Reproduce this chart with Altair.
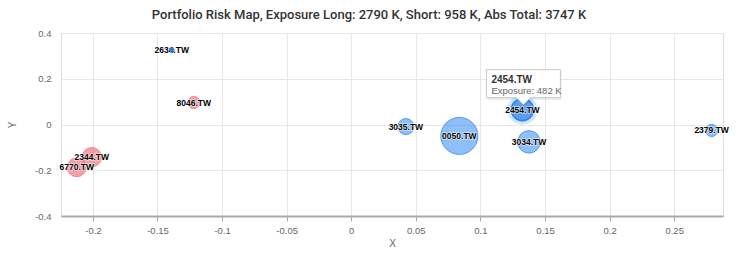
import altair as alt
import pandas as pd

tickers = ["0050.TW", "2454.TW", "3034.TW", "3035.TW", "2379.TW", "2634.TW",
           "2344.TW", "6770.TW", "8046.TW"]
x_vals = [0.0837, 0.1325, 0.1376, 0.0423, 0.279, -0.139, -0.2009, -0.2125, -0.1219]
y_vals = [-0.050, 0.065, -0.076, -0.009, -0.026, 0.326, -0.143, -0.187, 0.096]
exposure = [1242, 482, 500, 285, 193, 88, 390, 375, 193]
side = ["Long", "Long", "Long", "Long", "Long", "Long", "Short", "Short", "Short"]
hovered = "2454.TW"

title_text = "Portfolio Risk Map, Exposure Long: 2790 K, Short: 958 K, Abs Total: 3747 K"
x_ticks = [-0.2, -0.15, -0.1, -0.05, 0, 0.05, 0.1, 0.15, 0.2, 0.25]
y_ticks = [-0.4, -0.2, 0, 0.2, 0.4]

df = pd.DataFrame({"ticker": tickers, "x": x_vals, "y": y_vals,
                   "exposure": exposure, "side": side})
df["tip"] = "Exposure: " + df["exposure"].astype(str) + " K"

xs = alt.Scale(domain=[-0.2247, 0.2878], nice=False, zero=False)
ys = alt.Scale(domain=[-0.4, 0.4], nice=False, zero=False)
ss = alt.Scale(domain=[88, 1242], range=[25, 1369], zero=False, nice=False)
cs = alt.Scale(domain=["Long", "Short"], range=["#1f7fef", "#ec4250"])
ks = alt.Scale(domain=["Long", "Short"], range=["#4d9af2", "#f08a92"])

minus = "replace(format(datum.value, '.2~f'), '\u2212', '-')"

X = alt.X("x:Q", scale=xs, title="X",
          axis=alt.Axis(values=x_ticks, labelExpr=minus, grid=True, gridColor="#e6e6e6",
                        domainColor="#aaaaaa", domainWidth=2, tickColor="#aaaaaa",
                        tickSize=5, labelColor="#666666", labelFontSize=9.5,
                        labelPadding=4, titleColor="#666666", titleFontSize=10,
                        titleFontWeight="normal", titlePadding=4, labelFont="Liberation Sans",
                        titleFont="Liberation Sans"))
Y = alt.Y("y:Q", scale=ys, title="Y",
          axis=alt.Axis(values=y_ticks, labelExpr=minus, grid=True, gridColor="#e6e6e6",
                        domain=False, ticks=False, labelColor="#666666", labelFontSize=9.5,
                        labelPadding=10, titleColor="#666666", titleFontSize=10,
                        titleFontWeight="normal", titlePadding=17, labelFont="Liberation Sans",
                        titleFont="Liberation Sans"))

base = alt.Chart(df)

halo = base.transform_filter(alt.datum.ticker == hovered).mark_circle(
    size=900, color="#1f7fef", opacity=0.2).encode(x=X, y=Y)

bubbles = base.mark_point(shape="circle", filled=True, fillOpacity=0.5, strokeWidth=1,
                          strokeOpacity=1).encode(
    x=X, y=Y,
    size=alt.Size("exposure:Q", scale=ss, legend=None),
    fill=alt.Fill("side:N", scale=cs, legend=None),
    stroke=alt.Stroke("side:N", scale=ks, legend=None),
)

hover_dot = base.transform_filter(alt.datum.ticker == hovered).mark_point(
    shape="circle", filled=True, fill="#1f7fef", fillOpacity=0.35, stroke="#2a85ee",
    strokeWidth=1.5).encode(x=X, y=Y, size=alt.Size("exposure:Q", scale=ss, legend=None))

lbl_outline = base.mark_text(font="Liberation Sans", fontSize=8.5, fontWeight="bold",
                             stroke="white", strokeWidth=1.5, strokeOpacity=0.6,
                             baseline="middle", align="center", fill="white").encode(
    x=X, y=Y, text="ticker:N")
lbl = base.mark_text(font="Liberation Sans", fontSize=8.5, fontWeight="bold", color="#000000",
                     baseline="middle", align="center").encode(x=X, y=Y, text="ticker:N")

tiny_dot = base.transform_filter(alt.datum.exposure < 100).mark_point(
    shape="circle", filled=True, fill="#2f7fd8", fillOpacity=0.85, strokeWidth=0).encode(
    x=X, y=Y, size=alt.Size("exposure:Q", scale=ss, legend=None))

callout_path = ("M -1 -1.081 L 1 -1.081 L 1 -0.324 L 0.19 -0.324 L 0 -0.135 "
                "L -0.19 -0.324 L -1 -0.324 Z")
tip_df = base.transform_filter(alt.datum.ticker == hovered)
tip_shadow = tip_df.mark_point(shape=callout_path, size=5476, filled=True, fill="#000000",
                               opacity=0.08, xOffset=2, yOffset=2).encode(x=X, y=Y)
tip_box = tip_df.mark_point(shape=callout_path, size=5476, filled=True, fill="#ffffff",
                            fillOpacity=1, stroke="#c8c8c8", strokeWidth=1, opacity=1,
                            xOffset=1).encode(x=X, y=Y)
tip_t1 = tip_df.mark_text(font="Liberation Sans", fontSize=10, fontWeight="bold",
                          color="#333333", align="left", baseline="middle",
                          dx=-31, dy=-30).encode(x=X, y=Y, text="ticker:N")
tip_t2 = tip_df.mark_text(font="Liberation Sans", fontSize=9.5, color="#666666",
                          align="left", baseline="middle",
                          dx=-31, dy=-18.5).encode(x=X, y=Y, text="tip:N")

chart = alt.layer(halo, bubbles, hover_dot, lbl_outline, lbl, tiny_dot,
                  tip_shadow, tip_box, tip_t1, tip_t2).properties(
    width=662, height=183,
    title=alt.TitleParams(title_text, anchor="middle", dx=-23, offset=6,
                          font="Roboto", fontSize=13, fontWeight=500, color="#333333"),
    autosize=alt.AutoSizeParams(type="none"),
    padding={"left": 61, "top": 33, "right": 17, "bottom": 37},
).configure_view(stroke=None).configure(background="white")

chart.save("out.html", embed_options={"renderer": "svg", "actions": False})
